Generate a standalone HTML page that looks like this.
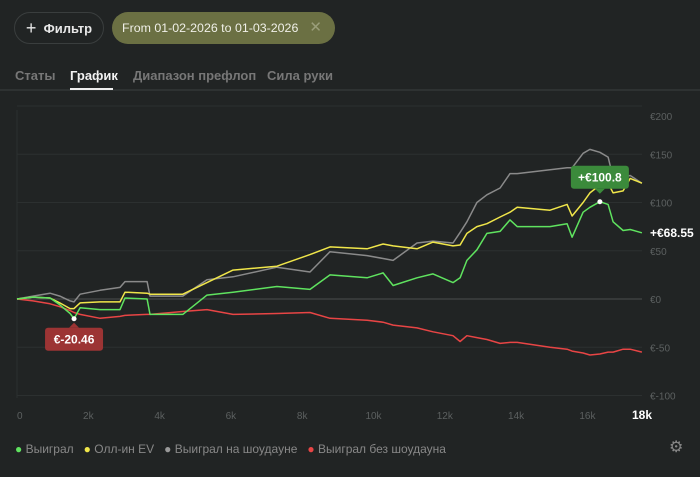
<!DOCTYPE html>
<html><head><meta charset="utf-8"><style>
body{margin:0;background:#212424;width:700px;height:477px;overflow:hidden;font-family:"Liberation Sans",sans-serif;position:relative}
.abs{position:absolute}
</style></head><body>
<div class="abs" style="left:14px;top:12px;width:88px;height:30px;border:1px solid #3a3e3e;border-radius:16px;color:#e8e8e8;font-size:13px;font-weight:bold;line-height:30px;text-align:center"><span style="font-size:18px;font-weight:normal;vertical-align:-1px">+</span>&nbsp; Фильтр</div>
<div class="abs" style="left:112px;top:12px;width:223px;height:32px;border-radius:16px;background:#6b7043;color:#f0f0e8;font-size:12.4px;line-height:32px;padding-left:10px;box-sizing:border-box">From 01-02-2026 to 01-03-2026<span style="position:absolute;right:13px;color:#9a9e7a;font-size:15px">✕</span></div>
<div class="abs" style="left:15px;top:68px;font-size:13px;color:#777;font-weight:bold">Статы</div>
<div class="abs" style="left:70px;top:68px;font-size:13px;color:#f2f2f2;font-weight:bold">График</div>
<div class="abs" style="left:133px;top:68px;font-size:13px;color:#777;font-weight:bold">Диапазон префлоп</div>
<div class="abs" style="left:267px;top:68px;font-size:13px;color:#777;font-weight:bold">Сила руки</div>
<div class="abs" style="left:0;top:89px;width:700px;height:2px;background:#2e3232"></div>
<div class="abs" style="left:70px;top:88px;width:43px;height:2px;background:#eee"></div>
<svg class="abs" style="left:0;top:0" width="700" height="477" id="chart"></svg>
<div class="abs" style="left:15px;top:442px;font-size:12px;color:#888;white-space:nowrap">
<span><span style="color:#5fe35f">●</span> Выиграл</span>&nbsp;&nbsp;
<span><span style="color:#f0e64a">●</span> Олл-ин EV</span>&nbsp;&nbsp;
<span><span style="color:#999">●</span> Выиграл на шоудауне</span>&nbsp;&nbsp;
<span><span style="color:#e84545">●</span> Выиграл без шоудауна</span></div>
<div class="abs" style="left:669px;top:437px;font-size:16px;color:#888">⚙</div>
<script>
const hands=[0,450,925,1200,1490,1600,1770,2330,2890,3030,3650,3730,4650,5330,6060,7290,8220,8780,9820,10270,10550,11220,11670,12230,12430,12620,12900,13180,13550,13830,14030,14950,15430,15570,15880,16070,16350,16580,16720,17000,17200,17530];
const won=[0,2,1,-6,-15,-20.46,-9,-11,-11,1,0,-16,-16,4,7,13,10,25,22,27,14,22,26,17,22,40,51,68,70,82,75,75,78,64,90,95,100.8,98,80,71,72,68.55];
const allinEv=[0,2,1,-4,-10,-10,-4,-3,-3,7,6,5,5,17,30,34,46,54,52,57,55,52,59,55,56,68,75,78,85,90,95,92,98,86,100,110,118,120,110,112,125,120];
const showdown=[0,3,6,3,-2,-3,5,9,12,18,18,3,3,20,23,33,28,49,45,42,40,58,60,58,69,80,100,108,115,130,130,134,136,136,151,155,152,147,126,126,128,120];
const nonShowdown=[0,-2,-5,-8,-12,-14,-16,-20,-18,-17,-16,-16,-13,-11,-16,-15,-14,-20,-22,-24,-27,-30,-34,-38,-44,-38,-40,-42,-46,-45,-45,-50,-52,-54,-56,-58,-57,-55,-55,-52,-52,-55];
const yTicks=[200,150,100,50,0,-50,-100];
const xTicks=[0,2000,4000,6000,8000,10000,12000,14000,16000];
const NS='http://www.w3.org/2000/svg';
const svg=document.getElementById('chart');
const X=v=>17+v*0.03565;
const Y=v=>299-v*0.965;
function mk(t,a,p){const e=document.createElementNS(NS,t);for(const k in a)e.setAttribute(k,a[k]);(p||svg).appendChild(e);return e;}
yTicks.forEach(t=>{
  const l=mk('line',{x1:17,x2:642,y1:Y(t),y2:Y(t),stroke:t===0?'#4a4e4e':'#2c3030','stroke-width':1});
  
  
  const ly=t===200?Y(t)+14:Y(t)+4;
  const tx=mk('text',{x:650,y:ly,fill:'#5c6060','font-size':10,'font-family':'Liberation Sans'});
  tx.textContent='€'+t;
  
  
});
const fr=mk('line',{x1:17,x2:17,y1:110,y2:398,stroke:'#2c3030'});


xTicks.forEach(t=>{
  const tx=mk('text',{x:X(t),y:419,fill:'#5c6060','font-size':10,'text-anchor':t===0?'start':'middle','font-family':'Liberation Sans'});
  tx.textContent=t===0?'0':(t/1000)+'k';
  
  
});
const end=mk('text',{x:642,y:419,fill:'#fff','font-size':12,'font-weight':'bold','text-anchor':'middle','font-family':'Liberation Sans'});
end.textContent='18k';


function series(vals,col,name){
  const d=vals.map((v,i)=>(i?'L':'M')+X(hands[i]).toFixed(1)+' '+Y(v).toFixed(1)).join(' ');
  const p=mk('path',{d:d,fill:'none',stroke:col,'stroke-width':1.5,'stroke-linejoin':'round'});
  
  
}
series(showdown,'#8a8a8a','series-showdown');
series(nonShowdown,'#e84545','series-non-showdown');
series(allinEv,'#f0e64a','series-allin-ev');
series(won,'#5fe35f','series-won');
let maxI=0,minI=0;won.forEach((v,i)=>{if(v>won[maxI])maxI=i;if(v<won[minI])minI=i;});
function badge(i,col,txt,above,name){
  const x=X(hands[i]),y=Y(won[i]);
  const g=mk('g',{});
  
  
  mk('circle',{cx:x,cy:y,r:2.5,fill:'#fff'},g);
  const w=58,h=23,by=above?y-36:y+9;
  mk('rect',{x:x-w/2,y:by,width:w,height:h,rx:3,fill:col},g);
  const ay=above?by+h:by;
  mk('path',{d:above?`M${x-5} ${ay}L${x} ${ay+5}L${x+5} ${ay}Z`:`M${x-5} ${ay}L${x} ${ay-5}L${x+5} ${ay}Z`,fill:col},g);
  const t=mk('text',{x:x,y:by+16,fill:'#fff','font-size':12,'font-weight':'bold','text-anchor':'middle','font-family':'Liberation Sans'},g);
  t.textContent=txt;
}
badge(maxI,'#3b8a3b','+€'+won[maxI],true,'max-badge');
badge(minI,'#9c3434','€'+won[minI],false,'min-badge');
const last=won[won.length-1];
const lt=mk('text',{x:650,y:Y(last)+4,fill:'#fff','font-size':12,'font-weight':'bold','font-family':'Liberation Sans'});
lt.textContent='+€'+last;


</script>
</body></html>
